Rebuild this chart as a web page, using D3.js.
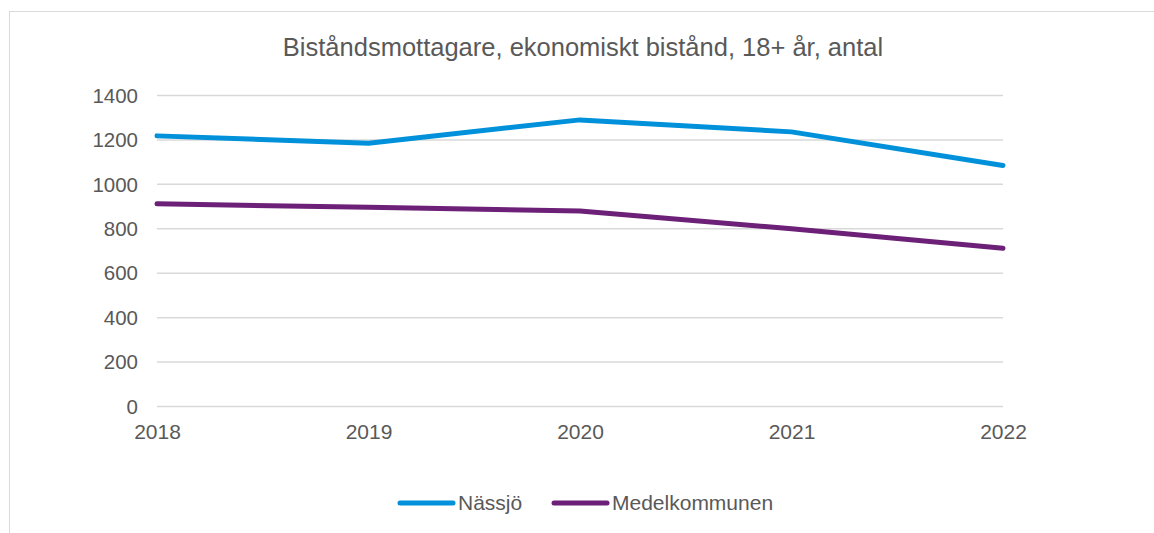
<!DOCTYPE html>
<html>
<head>
<meta charset="utf-8">
<script src="https://cdn.jsdelivr.net/npm/d3@7"></script>
<style>
  body { margin: 0; background: #fff; }
  text { font-family: "Liberation Sans", Arial, sans-serif; fill: #595959; }
</style>
</head>
<body>
<div id="chart"></div>
<script>
// Data
const years = ['2018', '2019', '2020', '2021', '2022'];
const nassjo = [1216, 1183, 1288, 1234, 1083];
const medel = [910, 895, 878, 798, 710];
const yTicks = [0, 200, 400, 600, 800, 1000, 1200, 1400];
const seriesNames = ['Nässjö', 'Medelkommunen'];
const seriesColors = ['#0091DA', '#6D2077'];

const dimensions = { width: 1154, height: 533 };
const plot = { left: 157, right: 1003, top: 95, bottom: 406 };

const svg = d3.select('#chart')
  .append('svg')
  .attr('width', dimensions.width)
  .attr('height', dimensions.height);

// chart frame
svg.append('rect')
  .attr('x', 9.5).attr('y', 11.5)
  .attr('width', 1200).attr('height', 600)
  .attr('fill', 'none')
  .attr('stroke', '#d9d9d9')
  .attr('stroke-width', 1);

svg.append('text')
  .attr('x', 583).attr('y', 56)
  .attr('text-anchor', 'middle')
  .style('font-size', '25.5px')
  .text('Biståndsmottagare, ekonomiskt bistånd, 18+ år, antal');

const x = d3.scalePoint().domain(years).range([plot.left, plot.right]);
const y = d3.scaleLinear().domain([0, 1400]).range([plot.bottom, plot.top]);

// gridlines
const yAxis = d3.axisLeft(y)
  .tickValues(yTicks)
  .tickFormat(d3.format('d'))
  .tickSize(-(plot.right - plot.left))
  .tickPadding(19);

svg.append('g')
  .attr('transform', `translate(${plot.left},0)`)
  .call(yAxis)
  .call(g => g.select('.domain').remove())
  .call(g => g.selectAll('line').attr('stroke', '#d9d9d9').attr('stroke-width', 1.5))
  .call(g => g.selectAll('text').style('font-size', '20.5px').attr('fill', '#595959').attr('dy', '0.35em'));

const xAxis = d3.axisBottom(x).tickSize(0).tickPadding(18);
svg.append('g')
  .attr('transform', `translate(0,${plot.bottom})`)
  .call(xAxis)
  .call(g => g.select('.domain').remove())
  .call(g => g.selectAll('text').style('font-size', '21px').attr('fill', '#595959'));

const line = d3.line()
  .x((d, i) => x(years[i]))
  .y(d => y(d));

[nassjo, medel].forEach((series, i) => {
  svg.append('path')
    .datum(series)
    .attr('d', line)
    .attr('fill', 'none')
    .attr('stroke', seriesColors[i])
    .attr('stroke-width', 5)
    .attr('stroke-linejoin', 'round')
    .attr('stroke-linecap', 'round');
});

// legend
const legendX = [400, 554];
const legend = svg.append('g');
seriesNames.forEach((name, i) => {
  legend.append('line')
    .attr('x1', legendX[i]).attr('x2', legendX[i] + 53)
    .attr('y1', 503).attr('y2', 503)
    .attr('stroke', seriesColors[i])
    .attr('stroke-width', 5)
    .attr('stroke-linecap', 'round');
  legend.append('text')
    .attr('x', legendX[i] + 58).attr('y', 510)
    .style('font-size', '21px')
    .text(name);
});
</script>
</body>
</html>
